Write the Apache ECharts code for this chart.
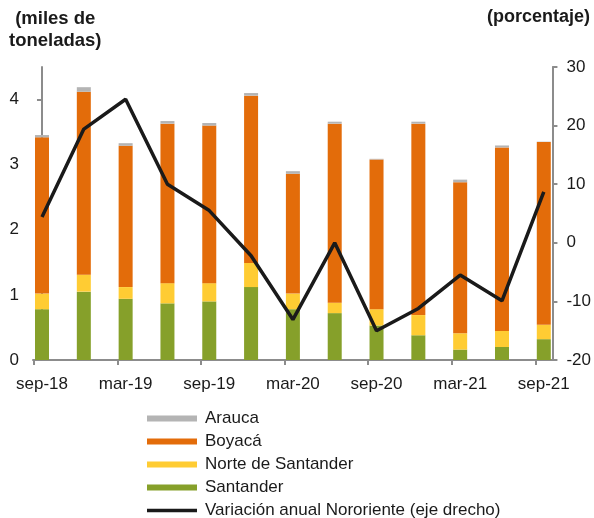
<!DOCTYPE html>
<html>
<head>
<meta charset="utf-8">
<script src="https://cdn.jsdelivr.net/npm/echarts@6/dist/echarts.min.js"></script>
<style>
  html, body { margin: 0; padding: 0; background: #fff; }
  #chart { width: 594px; height: 518px; }
</style>
</head>
<body>
<div id="chart"></div>
<script>
// trimestres
var categorias = ['sep-18','dic-18','mar-19','jun-19','sep-19','dic-19','mar-20','jun-20','sep-20','dic-20','mar-21','jun-21','sep-21'];
var etiquetasX = ['sep-18','','mar-19','','sep-19','','mar-20','','sep-20','','mar-21','','sep-21'];

// miles de toneladas
var santander = [0.78, 1.05, 0.94, 0.87, 0.90, 1.12, 0.78, 0.72, 0.53, 0.38, 0.16, 0.20, 0.32];
var norteSantander = [0.24, 0.26, 0.18, 0.31, 0.28, 0.37, 0.24, 0.16, 0.25, 0.31, 0.25, 0.245, 0.22];
var boyaca = [2.40, 2.81, 2.17, 2.45, 2.42, 2.57, 1.84, 2.75, 2.30, 2.94, 2.32, 2.82, 2.81];
var arauca = [0.035, 0.07, 0.04, 0.04, 0.04, 0.04, 0.04, 0.03, 0.01, 0.03, 0.04, 0.03, 0.005];

// porcentaje (eje derecho)
var variacion = [4.4, 19.4, 24.5, 10.0, 5.5, -2.2, -13.1, 0.0, -15.0, -11.2, -5.5, -9.9, 8.7];

var ticksIzq = [0, 1, 2, 3, 4];
var ticksDer = [-20, -10, 0, 10, 20, 30];

var fuente = '"Liberation Sans", Arial, sans-serif';
var gris = '#8c8c8c';

var myChart = echarts.init(document.getElementById('chart'));

// posiciones de las marcas del eje x (borde izquierdo de cada barra par)
var marcasX = [];
for (var i = 0; i < categorias.length; i += 2) {
    marcasX.push(i - 0.19);
}

option = {
    backgroundColor: '#fff',
    animation: false,
    textStyle: { fontFamily: fuente },
    graphic: [
        {
            type: 'text', left: 9, top: 8,
            style: { text: '(miles de\ntoneladas)', font: 'bold 18.5px ' + fuente, fill: '#1a1a1a', lineHeight: 22, textAlign: 'center' }
        },
        {
            type: 'text', right: 4, top: 8,
            style: { text: '(porcentaje)', font: 'bold 18px ' + fuente, fill: '#1a1a1a' }
        }
    ],
    legend: {
        orient: 'vertical',
        left: 147,
        top: 410,
        height: 130,
        padding: 0,
        itemWidth: 50,
        itemHeight: 6,
        itemGap: 6,
        textStyle: { fontSize: 17, color: '#1a1a1a', fontFamily: fuente, padding: [0, 0, 0, 3] },
        data: [
            { name: 'Arauca', icon: 'rect' },
            { name: 'Boyacá', icon: 'rect' },
            { name: 'Norte de Santander', icon: 'rect' },
            { name: 'Santander', icon: 'rect' },
            { name: 'Variación anual Nororiente (eje drecho)', icon: 'path://M0,0H1V0Z M0,1.2H50V4.8H0Z M0,6H1V6Z' }
        ]
    },
    grid: [
        { left: 21.1, right: 29.3, top: 67, bottom: 158 },
        { left: 33, right: 41, top: 67, bottom: 158 }
    ],
    xAxis: [
        {
            type: 'category',
            gridIndex: 0,
            data: categorias,
            boundaryGap: true,
            axisLine: { show: false },
            axisTick: { show: false },
            axisLabel: {
                interval: 0,
                margin: 16,
                fontSize: 17,
                color: '#1a1a1a',
                formatter: function (v, idx) { return etiquetasX[idx]; }
            }
        },
        {
            type: 'value',
            gridIndex: 1,
            min: -0.215,
            max: 12.22,
            splitLine: { show: false },
            axisLine: { show: true, lineStyle: { color: gris, width: 2 } },
            axisTick: { show: true, length: 5, customValues: marcasX, lineStyle: { color: gris, width: 2 } },
            axisLabel: { show: false }
        }
    ],
    yAxis: [
        { type: 'value', gridIndex: 0, min: 0, max: 4.5, show: false },
        { type: 'value', gridIndex: 0, min: -20, max: 30, show: false },
        {
            type: 'value',
            gridIndex: 1,
            position: 'left',
            min: 0,
            max: 4.5,
            splitLine: { show: false },
            axisLine: { show: true, lineStyle: { color: gris, width: 2 } },
            axisTick: { show: true, length: 5, customValues: ticksIzq, lineStyle: { color: gris, width: 2 } },
            axisLabel: { customValues: ticksIzq, margin: 14, fontSize: 17, color: '#1a1a1a' }
        },
        {
            type: 'value',
            gridIndex: 1,
            position: 'right',
            min: -20,
            max: 30,
            interval: 10,
            splitLine: { show: false },
            axisLine: { show: true, lineStyle: { color: gris, width: 2 } },
            axisTick: { show: true, length: 5, lineStyle: { color: gris, width: 2 } },
            axisLabel: { margin: 14, fontSize: 17, color: '#1a1a1a' }
        }
    ],
    series: [
        {
            name: 'Santander', type: 'bar', stack: 'total', xAxisIndex: 0, yAxisIndex: 0,
            barWidth: 14, itemStyle: { color: '#86a02a' }, data: santander
        },
        {
            name: 'Norte de Santander', type: 'bar', stack: 'total', xAxisIndex: 0, yAxisIndex: 0,
            barWidth: 14, itemStyle: { color: '#ffcc33' }, data: norteSantander
        },
        {
            name: 'Boyacá', type: 'bar', stack: 'total', xAxisIndex: 0, yAxisIndex: 0,
            barWidth: 14, itemStyle: { color: '#e36c0a' }, data: boyaca
        },
        {
            name: 'Arauca', type: 'bar', stack: 'total', xAxisIndex: 0, yAxisIndex: 0,
            barWidth: 14, itemStyle: { color: '#b4b4b4' }, data: arauca
        },
        {
            name: 'Variación anual Nororiente (eje drecho)', type: 'line', xAxisIndex: 0, yAxisIndex: 1,
            symbol: 'none', showSymbol: false,
            lineStyle: { color: '#1a1a1a', width: 3.5 },
            itemStyle: { color: '#1a1a1a' },
            z: 5,
            data: variacion
        }
    ]
};

myChart.setOption(option);
</script>
</body>
</html>
